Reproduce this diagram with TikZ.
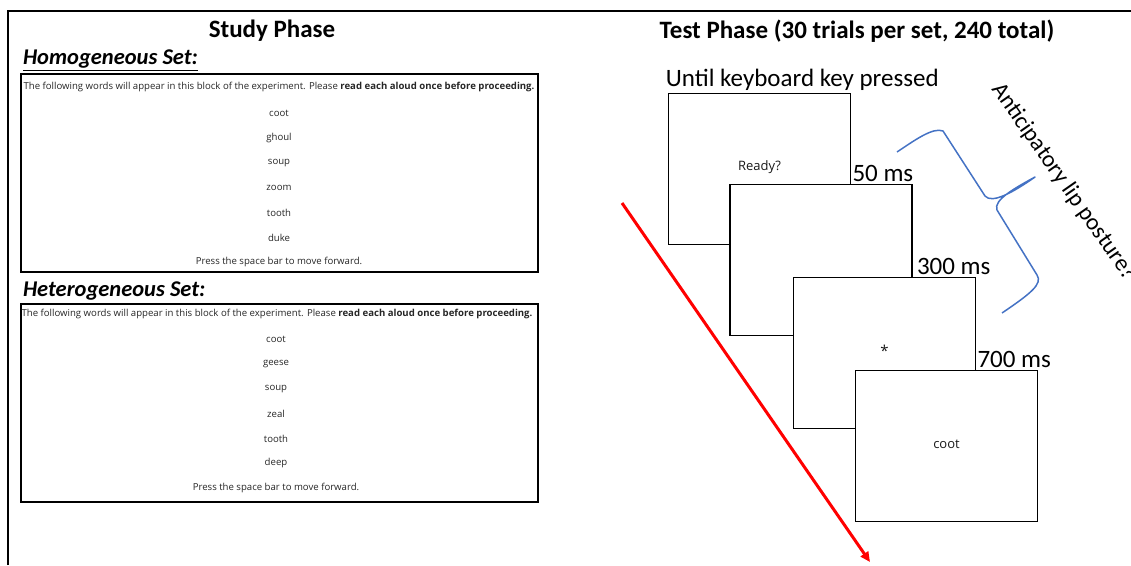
\documentclass[tikz,border=0pt]{standalone}
\usepackage{fontspec}
\setmainfont{Carlito}
\newfontfamily\screenfont{Open Sans}
\usetikzlibrary{arrows.meta,positioning,calc}

\definecolor{bracecol}{RGB}{68,114,196}

\begin{document}
\begin{tikzpicture}[x=1pt, y=-1pt,
            title/.style={font=\fontsize{25}{28}\selectfont\bfseries, inner sep=0pt},
            header/.style={font=\fontsize{22.5}{26}\selectfont\bfseries\itshape, inner sep=1pt},
            studybox/.style={rectangle, draw=black, line width=2.4pt, minimum width=517pt, minimum height=198pt, inner sep=0pt},
            word/.style={font=\screenfont\fontsize{9.6}{11}\selectfont, text=black!85, inner sep=0pt},
            screen/.style={rectangle, draw=black, fill=white, line width=1.6pt, minimum width=182pt, minimum height=151pt, inner sep=0pt, font=\screenfont\fontsize{13}{15}\selectfont, text=black!90},
            delay/.style={font=\fontsize{25}{29}\selectfont, inner sep=2pt}]
            \useasboundingbox (0,0) rectangle (1131,565);
            % outer frame
            \draw[line width=1.2pt] (8,565) -- (8,11) -- (1131,11);

            % study phase
            \node[title] (study) at (272,31) {Study Phase};
            \node[studybox] (homobox) at (279.5,173) {};
            \node[header, anchor=south west] (homo) at ($(homobox.north west)+(2,-1)$) {\underline{Homogeneous Set:}};
            \node[word] (homoinst) at (279,87) {The following words will appear in this block of the experiment. Please \textbf{read each aloud once before proceeding.}};
            \foreach \w [count=\i] in {coot,ghoul,soup,zoom,tooth,duke,Press the space bar to move forward.}
                \node[word] (homo\i) at (279,88+24.9*\i) {\w};

            \node[studybox] (heterobox) at (279.5,403) {};
            \node[header, anchor=south west] (hetero) at ($(heterobox.north west)+(2,-1)$) {Heterogeneous Set:};
            \node[word] (heteroinst) at (277,314) {The following words will appear in this block of the experiment. Please \textbf{read each aloud once before proceeding.}};
            \foreach \w [count=\i] in {coot,geese,soup,zeal,tooth,deep,Press the space bar to move forward.}
                \node[word] (hetero\i) at (276,315+24.7*\i) {\w};

            % test phase
            \node[title] (test) at (857,31) {Test Phase (30 trials per set, 240 total)};
            \node[screen] (ready) at (759.5,169) {\raisebox{7pt}{Ready?}};
            \node[screen] (blank) at (821,260) {};
            \node[screen] (fix) at (884.5,353) {\raisebox{4pt}{\fontsize{15}{17}\selectfont *}};
            \node[screen] (target) at (946.5,446) {\raisebox{4pt}{coot}};

            \node[delay, anchor=south west, inner xsep=0pt] (until) at ($(ready.north west)+(-2,0)$) {Until keyboard key pressed};
            \node[delay, anchor=south west, inner xsep=1pt] (d50) at (blank.north -| ready.east) {50 ms};
            \node[delay, anchor=south west, xshift=3pt, inner xsep=1pt] (d300) at (fix.north -| blank.east) {300 ms};
            \node[delay, anchor=south west, inner xsep=1pt] (d700) at (target.north -| fix.east) {700 ms};

            % time arrow
            \coordinate (tstart) at (622,203);
            \coordinate (tend) at (870,562);
            \draw[red, line width=3pt, -{Triangle[length=10pt, width=9pt]}] (tstart) -- (tend);

            % brace and label
            \draw[bracecol, line width=1.5pt, line join=round]
                (897,152) .. controls (915,140) and (933,127) .. (943,131) -- (985,196)
                .. controls (992,204) and (1012,193) .. (1035,177)
                .. controls (1015,188) and (993,200) .. (997,210) -- (1037,275)
                .. controls (1043,284) and (1030,294) .. (1002,313);
            \node[delay, rotate=-55, font=\fontsize{23.5}{27}\selectfont] (lip) at (1064,182) {Anticipatory lip posture?};
\end{tikzpicture}
\end{document}
